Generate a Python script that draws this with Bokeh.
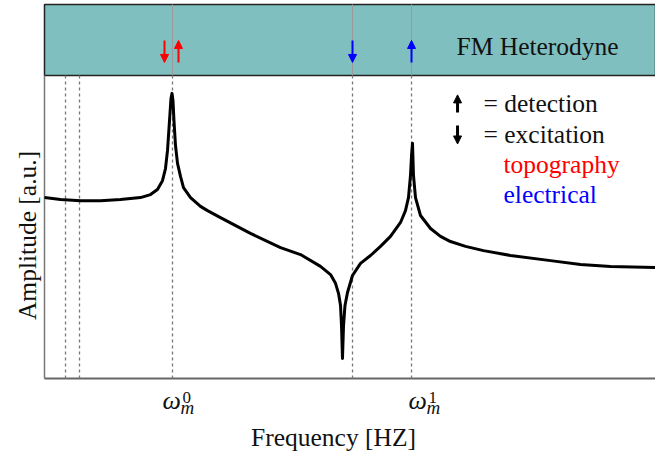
from bokeh.plotting import figure
from bokeh.models import Range1d, Arrow, NormalHead
from bokeh.core.properties import value
from bokeh.embed import file_html
from bokeh.resources import INLINE

# ---- data (arbitrary units) ----
freq = [0.000, 0.262, 0.589, 0.917, 1.244, 1.571, 1.735, 1.849, 1.931, 1.980,
        2.013, 2.046, 2.070, 2.087, 2.103, 2.119, 2.144, 2.177, 2.226, 2.275,
        2.390, 2.553, 2.668, 2.880, 3.371, 3.863, 4.190, 4.517, 4.681, 4.763,
        4.812, 4.845, 4.861, 4.877, 4.894, 4.918, 4.959, 5.041, 5.172, 5.336,
        5.499, 5.663, 5.827, 5.908, 5.957, 5.990, 6.007, 6.023, 6.039, 6.072,
        6.154, 6.318, 6.481, 6.645, 6.891, 7.185, 7.627, 8.282, 8.773, 9.264, 10.0]
amp = [5.97, 5.91, 5.87, 5.87, 5.91, 5.97, 6.07, 6.24, 6.53, 6.93,
       7.52, 8.51, 9.24, 9.41, 9.17, 8.51, 7.69, 7.10, 6.67, 6.30,
       5.97, 5.68, 5.54, 5.31, 4.79, 4.32, 4.09, 3.70, 3.43, 3.14,
       2.81, 2.41, 1.75, 0.66, 1.75, 2.41, 2.84, 3.40, 3.80, 4.06,
       4.36, 4.69, 5.15, 5.54, 5.97, 6.70, 7.36, 7.76, 6.70, 5.97,
       5.38, 4.95, 4.69, 4.52, 4.36, 4.22, 4.06, 3.89, 3.76, 3.70, 3.66]

omega_ticks = [2.095, 6.007]
omega_sup = ["0", "1"]
dashed_x = [0.344, 0.573, 2.095, 5.041, 6.007]
panel_x = [2.095, 5.041, 6.007]

# excitation (down) / detection (up) arrows in the top panel
arrow_x = [1.964, 2.193, 5.041, 6.007]
arrow_dir = ["down", "up", "down", "up"]
arrow_col = ["red", "red", "blue", "blue"]

legend_texts = ["= detection", "= excitation", "topography", "electrical"]
legend_colors = ["#111111", "#111111", "red", "blue"]

X0, X1 = 0.0, 10.0          # plotted frequency span
Y0, MAIN_TOP, PANEL_TOP = 0.0, 10.0, 12.343
SERIF = "Liberation Serif"
PX_Y = 30.3                 # pixels per y unit
PX_X = 61.1                 # pixels per x unit

p = figure(width=655, height=455, output_backend="svg", toolbar_location=None,
           x_range=Range1d(-0.7201, X1), y_range=Range1d(-2.541, 12.475),
           min_border=0, x_axis_location=None, y_axis_location=None)
p.grid.visible = False
p.outline_line_color = None

# top panel
p.quad(left=[X0], right=[X1], bottom=[MAIN_TOP], top=[PANEL_TOP],
       fill_color="#80bfbf", line_color="#222222", line_width=1.5)
p.segment(x0=panel_x, y0=[MAIN_TOP] * len(panel_x), x1=panel_x,
          y1=[PANEL_TOP] * len(panel_x), line_color="#9a9a9a", line_width=1)

# axis lines
p.line([X0, X0], [Y0, MAIN_TOP], line_color="#777777", line_width=1.5)
p.line([X0, X1], [Y0, Y0], line_color="#666666", line_width=2)

p.segment(x0=dashed_x, y0=[Y0] * len(dashed_x), x1=dashed_x,
          y1=[MAIN_TOP] * len(dashed_x), line_color="#777777", line_width=1.3,
          line_dash="3 3")

p.line(freq, amp, line_color="black", line_width=3, line_join="round")

for x, d, c in zip(arrow_x, arrow_dir, arrow_col):
    lo, hi = 10.43, 11.155
    ys, ye = (hi, lo) if d == "down" else (lo, hi)
    p.add_layout(Arrow(end=NormalHead(size=8, fill_color=c, line_color=c),
                       x_start=x, y_start=ys, x_end=x, y_end=ye,
                       line_color=c, line_width=2))

# legend arrows
p.add_layout(Arrow(end=NormalHead(size=8, fill_color="black", line_color="black"),
                   x_start=6.76, y_start=8.78, x_end=6.76, y_end=9.36,
                   line_color="black", line_width=3))
p.add_layout(Arrow(end=NormalHead(size=8, fill_color="black", line_color="black"),
                   x_start=6.76, y_start=8.35, x_end=6.76, y_end=7.74,
                   line_color="black", line_width=3))

def txt(x, y, texts, colors, size=25.5, style="normal", align="left",
        x_offset=0, angle=0):
    # compensate the renderer's baseline placement (about 0.3 em low)
    shift = 0.3 * size
    if angle:
        x = [v - shift / PX_X for v in x]
    else:
        y = [v + shift / PX_Y for v in y]
    p.text(x=x, y=y, text=texts, text_color=colors,
           text_font=value(SERIF), text_font_size=value(f"{size}px"),
           text_font_style=style, text_baseline="alphabetic",
           text_align=align, x_offset=x_offset, angle=angle)

txt([6.743], [10.69], ["FM Heterodyne"], ["#111111"])
txt([7.185, 7.185, 7.512, 7.512], [8.81, 7.79, 6.80, 5.81],
    legend_texts, legend_colors)

# tick labels omega_m^0, omega_m^1
w_off = [-10, -3]
for t, s, o in zip(omega_ticks, omega_sup, w_off):
    txt([t], [-0.99], ["ω"], ["#111111"], size=26, style="italic", x_offset=o)
    txt([t], [-1.155], ["m"], ["#111111"], size=19, style="italic", x_offset=o + 18)
    txt([t], [-0.79], [s], ["#111111"], size=17, x_offset=o + 20)

# axis titles
txt([4.73], [-2.21], ["Frequency [HZ]"], ["#111111"], align="center")
txt([-0.147], [4.72], ["Amplitude [a.u.]"], ["#111111"], align="center",
    angle=1.5708)

open("out.html", "w").write(file_html(p, INLINE))
